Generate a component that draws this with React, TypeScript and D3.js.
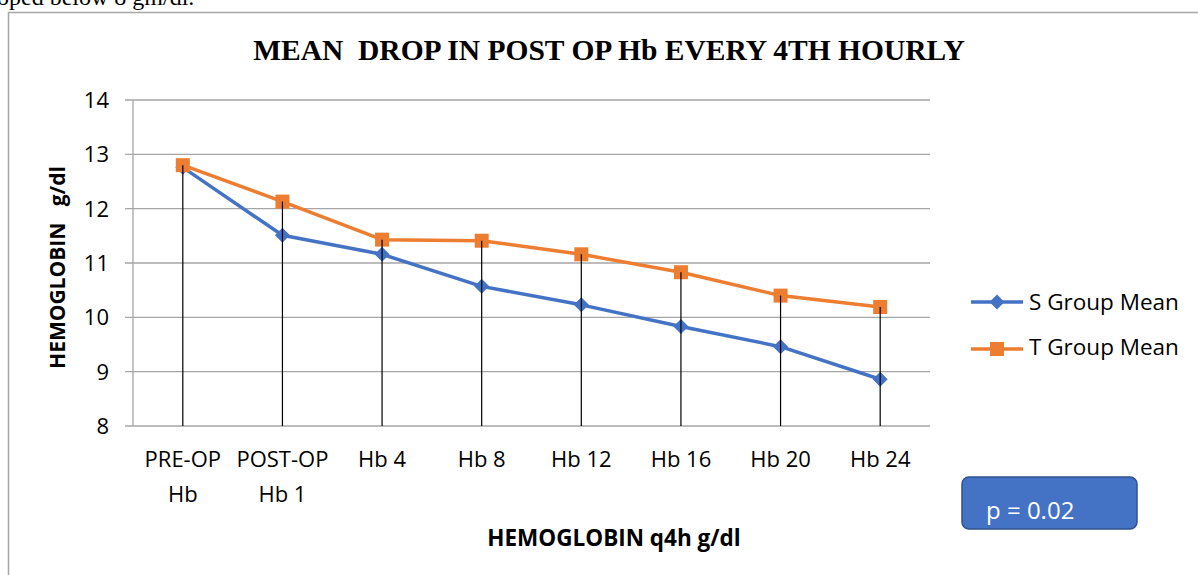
import React from "react";
import * as d3 from "d3";

const categories: string[][] = [
  ["PRE-OP", "Hb"],
  ["POST-OP", "Hb 1"],
  ["Hb 4"],
  ["Hb 8"],
  ["Hb 12"],
  ["Hb 16"],
  ["Hb 20"],
  ["Hb 24"],
];
const sGroup: number[] = [12.76, 11.51, 11.16, 10.57, 10.23, 9.83, 9.46, 8.86];
const tGroup: number[] = [12.8, 12.13, 11.43, 11.41, 11.16, 10.83, 10.4, 10.19];
const yTicks: number[] = [8, 9, 10, 11, 12, 13, 14];
const seriesNames = ["S Group Mean", "T Group Mean"];
const title = "MEAN  DROP IN POST OP Hb EVERY 4TH HOURLY";
const yTitle = "HEMOGLOBIN   g/dl";
const xTitle = "HEMOGLOBIN q4h g/dl";
const pText = "p = 0.02";

const BLUE = "#4472C4";
const ORANGE = "#ED7D31";
const SANS = "'Open Sans', 'Noto Sans', sans-serif";

export default function App() {
  const W = 1198;
  const H = 575;
  const left = 133;
  const right = 930;
  const top = 100;
  const bottom = 426;

  const x = d3
    .scaleBand<number>()
    .domain(d3.range(categories.length))
    .range([left, right]);
  const cx = (i: number) => (x(i) as number) + x.bandwidth() / 2;
  const y = d3.scaleLinear().domain([8, 14]).range([bottom, top]);

  const line = d3
    .line<number>()
    .x((_, i) => cx(i))
    .y((d) => y(d));

  const diamond = (px: number, py: number, r: number) =>
    `M${px},${py - r}L${px + r},${py}L${px},${py + r}L${px - r},${py}Z`;

  return (
    <svg
      width={W}
      height={H}
      style={{ position: "absolute", left: 0, top: 0, background: "#fff" }}
    >
      {/* clipped text from the page above */}
      <text x={-3} y={5} fontFamily="'Liberation Serif', serif" fontSize={24} fill="#000">
        oped below 8 gm/dl.
      </text>
      {/* frame */}
      <path d={`M8.5,${H + 2}V12.5H${W + 2}`} fill="none" stroke="#a6a6a6" strokeWidth={1.5} />

      {/* title */}
      <text
        x={609}
        y={60}
        textAnchor="middle"
        fontFamily="'Liberation Serif', 'Times New Roman', serif"
        fontWeight="bold"
        fontSize={29.5}
        fill="#000"
        style={{ whiteSpace: "pre" }}
      >
        {title}
      </text>

      {/* gridlines + y ticks */}
      {yTicks.map((t) => (
        <g key={t}>
          <line x1={left - 8} x2={right} y1={y(t)} y2={y(t)} stroke="#a6a6a6" strokeWidth={1.3} />
          <text
            x={109}
            y={y(t) + 8}
            textAnchor="end"
            fontFamily={SANS}
            fontSize={22}
            fill="#000"
          >
            {t}
          </text>
        </g>
      ))}
      {/* y axis line */}
      <line x1={left} x2={left} y1={top} y2={bottom} stroke="#a6a6a6" strokeWidth={1.3} />

      {/* S series */}
      <path d={line(sGroup) || ""} fill="none" stroke={BLUE} strokeWidth={3.5} strokeLinejoin="round" />
      {sGroup.map((v, i) => (
        <path key={i} d={diamond(cx(i), y(v), 7.5)} fill={BLUE} />
      ))}
      {/* T series */}
      <path d={line(tGroup) || ""} fill="none" stroke={ORANGE} strokeWidth={3.5} strokeLinejoin="round" />
      {tGroup.map((v, i) => (
        <rect key={i} x={cx(i) - 7} y={y(v) - 7} width={14} height={14} fill={ORANGE} />
      ))}
      {/* drop lines */}
      {tGroup.map((v, i) => (
        <line
          key={"d" + i}
          x1={cx(i)}
          x2={cx(i)}
          y1={y(Math.max(v, sGroup[i]))}
          y2={y(8)}
          stroke="#000"
          strokeWidth={1.2}
        />
      ))}

      {/* x tick labels */}
      {categories.map((lines, i) => (
        <text
          key={i}
          x={cx(i)}
          y={467}
          textAnchor="middle"
          fontFamily={SANS}
          fontSize={22}
          fill="#000"
        >
          {lines.map((l, j) => (
            <tspan key={j} x={cx(i)} dy={j === 0 ? 0 : 35}>
              {l}
            </tspan>
          ))}
        </text>
      ))}

      {/* axis titles */}
      <text
        x={614}
        y={546}
        textAnchor="middle"
        fontFamily={SANS}
        fontWeight="bold"
        fontSize={22.5}
        fill="#000"
      >
        {xTitle}
      </text>
      <text
        transform={`translate(65,267.5) rotate(-90)`}
        textAnchor="middle"
        fontFamily={SANS}
        fontWeight="bold"
        fontSize={21}
        fill="#000"
        style={{ whiteSpace: "pre" }}
      >
        {yTitle}
      </text>

      {/* legend */}
      <g>
        <line x1={971} x2={1023} y1={302} y2={302} stroke={BLUE} strokeWidth={3.5} />
        <path d={diamond(997, 302, 7.5)} fill={BLUE} />
        <text x={1029} y={309.5} fontFamily={SANS} fontSize={22.5} fill="#000">
          {seriesNames[0]}
        </text>
        <line x1={971} x2={1023} y1={349} y2={349} stroke={ORANGE} strokeWidth={3.5} />
        <rect x={990} y={342} width={14} height={14} fill={ORANGE} />
        <text x={1029} y={355} fontFamily={SANS} fontSize={22.5} fill="#000">
          {seriesNames[1]}
        </text>
      </g>

      {/* p-value box */}
      <rect
        x={962}
        y={477}
        width={175}
        height={52}
        rx={7}
        fill={BLUE}
        stroke="#2F528F"
        strokeWidth={1.5}
      />
      <text x={986} y={519} fontFamily={SANS} fontSize={24} fill="#fff">
        {pText}
      </text>
    </svg>
  );
}
